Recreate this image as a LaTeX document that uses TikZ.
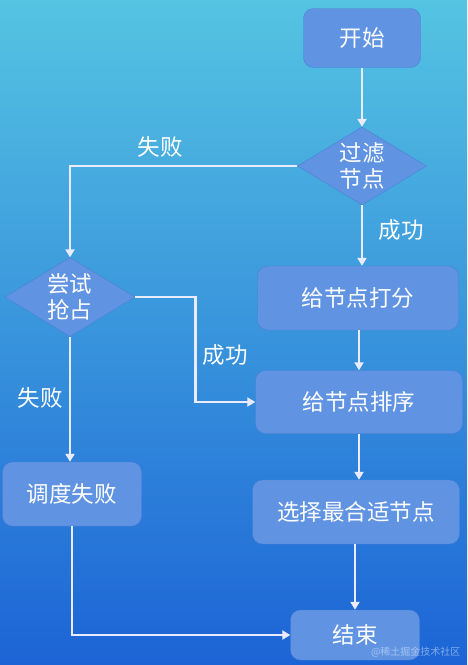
\documentclass[tikz,border=0pt]{standalone}
\usepackage{fontspec}
\setmainfont{Noto Sans CJK SC}
\usetikzlibrary{shapes.geometric,arrows.meta}
\definecolor{bgtop}{HTML}{55C4E2}
\definecolor{bgmid}{HTML}{2E93DC}
\definecolor{bgbottom}{HTML}{1C64D6}
\definecolor{boxfill}{HTML}{6094E3}
\definecolor{boxline}{HTML}{4C7FD4}

\tikzset{
  stepbox/.style={draw=boxline,fill=boxfill,rounded corners=10pt,text=white,font=\fontsize{22.5}{27}\selectfont,inner sep=0pt},
  choice/.style={shape=diamond,draw=boxline,fill=boxfill,text=white,font=\fontsize{22.5}{26}\selectfont,align=center,inner sep=0pt,aspect=1.65},
  flow/.style={draw=white!92!blue,line width=2.9pt,-{Triangle[width=9pt,length=8pt]}},
  tag/.style={text=white,font=\fontsize{22.5}{27}\selectfont}
}

\begin{document}
\begin{tikzpicture}[x=1pt,y=-1pt]
\shade[top color=bgtop,middle color=bgmid,bottom color=bgbottom] (0,0) rectangle (467,665);
\useasboundingbox (0,0) rectangle (467,665);
% nodes
\node[stepbox,minimum width=117pt,minimum height=59pt] (start) at (362,38) {开始};
\node[choice,minimum width=129pt,minimum height=78pt] (filter) at (362,166) {过滤\\节点};
\node[stepbox,minimum width=201pt,minimum height=64pt] (score) at (358,298) {给节点打分};
\node[choice,minimum width=130pt,minimum height=79pt] (try) at (70,297) {尝试\\抢占};
\node[stepbox,minimum width=207pt,minimum height=63pt] (sort) at (359,402) {给节点排序};
\node[stepbox,minimum width=139pt,minimum height=64pt] (fail) at (72,494) {调度失败};
\node[stepbox,minimum width=207pt,minimum height=64pt] (select) at (356,512) {选择最合适节点};
\node[stepbox,minimum width=129pt,minimum height=50pt] (end) at (355,635) {结束};
% labels
\node[tag] (failA) at (160,147) {失败};
\node[tag] (okA) at (401,230) {成功};
\node[tag] (okB) at (225,355) {成功};
\node[tag] (failB) at (40,398) {失败};
% connectors
\draw[flow] (start) -- (filter);
\draw[flow] (filter.west) -| (try.north);
\draw[flow] (filter.south) -- (filter.south |- score.north);
\draw[flow] (score.south -| sort) -- (sort.north);
\draw[flow] (try.east) -- ++(60,0) |- (sort.west);
\draw[flow] (sort.south) -- (sort.south |- select.north);
\draw[flow] (select.south -| end) -- (end.north);
\draw[flow] (try.south) -- (try.south |- fail.north);
\draw[flow] (fail.south) |- (end.west);
% watermark
\node[text=white,opacity=0.45,font=\fontsize{10}{12}\selectfont,anchor=east] (mark) at (464,652) {@稀土掘金技术社区};
\end{tikzpicture}
\end{document}
